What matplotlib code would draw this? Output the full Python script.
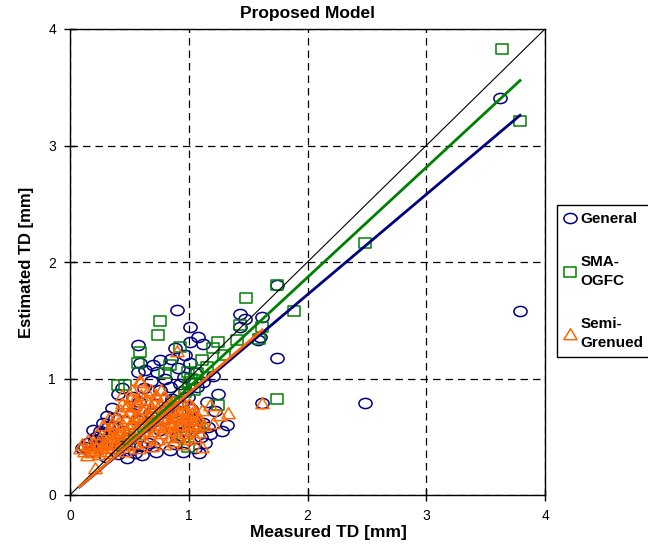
#!/usr/bin/env python3
import numpy as np
import matplotlib
matplotlib.use("Agg")
import matplotlib.pyplot as plt
from matplotlib.path import Path
from matplotlib.transforms import Affine2D

plt.rcParams["font.family"] = ["Liberation Sans", "DejaVu Sans"]

# measured / estimated TD [mm]
general_x = [3.62, 3.79, 2.48, 1.74, 1.62, 1.74, 1.43, 1.47, 1.62, 1.43, 1.60, 1.58,
             0.90, 1.01, 1.08, 1.01, 1.12, 0.57, 0.57, 0.59, 0.76, 0.88, 1.01, 0.63,
             0.73, 0.91, 1.12, 1.25, 1.32, 0.44, 0.40, 0.76, 0.84, 0.28, 0.13, 0.23,
             0.48, 0.61, 0.84, 1.09, 1.12, 1.04, 0.76, 0.90, 0.48, 0.99, 1.07, 0.36,
             0.19, 0.56, 0.67, 0.82, 0.96, 0.80, 0.68, 0.93, 1.05, 0.97, 0.85, 0.70,
             1.20, 1.15, 1.22, 1.28, 1.18, 1.05, 0.95, 0.72, 0.55, 0.40, 0.30, 0.15,
             0.10, 0.26, 0.33, 0.38, 0.45, 0.52, 0.58, 0.64, 0.72, 0.78, 0.86, 0.92,
             0.98, 1.02, 0.62, 0.53, 0.35, 0.31, 0.22, 0.17, 0.42, 0.66, 0.88, 1.14,
             0.25, 0.21, 0.32, 0.27, 0.50, 0.60, 0.70, 1.10, 1.16, 0.94]
general_y = [3.41, 1.58, 0.79, 1.18, 0.79, 1.80, 1.55, 1.51, 1.53, 1.44, 1.36, 1.33,
             1.59, 1.44, 1.36, 1.31, 1.30, 1.29, 1.06, 1.13, 1.16, 1.26, 1.13, 1.07,
             1.06, 1.09, 0.97, 0.87, 0.60, 0.92, 0.87, 0.90, 0.93, 0.62, 0.41, 0.41,
             0.32, 0.34, 0.39, 0.36, 0.62, 0.64, 0.56, 0.50, 0.47, 0.84, 0.93, 0.58,
             0.56, 0.64, 0.70, 0.73, 1.01, 1.00, 0.98, 0.95, 1.05, 1.20, 1.17, 1.12,
             1.02, 0.80, 0.72, 0.55, 0.52, 0.40, 0.37, 0.37, 0.36, 0.35, 0.33, 0.45,
             0.40, 0.52, 0.48, 0.66, 0.55, 0.70, 0.80, 0.60, 0.78, 0.64, 0.82, 0.72,
             0.56, 0.74, 0.92, 0.84, 0.75, 0.68, 0.50, 0.38, 0.42, 0.45, 0.44, 0.45,
             0.55, 0.47, 0.58, 0.44, 0.38, 0.42, 0.42, 0.50, 0.58, 0.62]

sma_x = [3.64, 3.79, 2.48, 1.74, 1.89, 1.48, 1.43, 1.62, 1.41, 1.59, 1.74, 0.76,
         0.74, 0.59, 0.57, 0.93, 0.84, 0.80, 1.11, 1.25, 1.20, 0.40, 0.46, 0.99,
         1.07, 1.05, 1.04, 1.25, 0.95, 1.09, 0.99, 1.00, 0.97, 0.90, 0.70, 0.62,
         0.55, 0.50, 0.45, 0.85, 1.15, 1.30, 1.02]
sma_y = [3.83, 3.21, 2.16, 1.80, 1.58, 1.69, 1.46, 1.44, 1.33, 1.34, 0.82, 1.49,
         1.37, 1.23, 1.13, 1.27, 1.12, 1.05, 1.16, 1.31, 1.26, 0.94, 0.94, 1.06,
         1.05, 0.99, 0.90, 0.77, 0.50, 0.58, 0.41, 0.95, 0.88, 0.80, 0.66, 0.58,
         0.52, 0.48, 0.44, 0.70, 1.10, 1.20, 1.00]

semi_x = [0.08, 0.12, 0.14, 0.16, 0.18, 0.21, 0.20, 0.22, 0.24, 0.25, 0.27, 0.28,
          0.29, 0.30, 0.31, 0.32, 0.33, 0.34, 0.35, 0.36, 0.37, 0.38, 0.39, 0.40,
          0.41, 0.42, 0.43, 0.44, 0.45, 0.46, 0.47, 0.48, 0.49, 0.50, 0.51, 0.52,
          0.52, 0.53, 0.54, 0.55, 0.56, 0.57, 0.58, 0.59, 0.60, 0.61, 0.62, 0.63,
          0.64, 0.65, 0.66, 0.67, 0.68, 0.69, 0.70, 0.71, 0.72, 0.73, 0.74, 0.75,
          0.76, 0.77, 0.78, 0.79, 0.80, 0.81, 0.82, 0.83, 0.84, 0.85, 0.86, 0.87,
          0.88, 0.89, 0.90, 0.90, 0.91, 0.92, 0.93, 0.94, 0.95, 0.96, 0.97, 0.98,
          0.99, 1.00, 1.01, 1.02, 1.03, 1.04, 1.05, 1.06, 1.07, 1.08, 1.09, 1.11,
          1.11, 1.13, 1.18, 1.20, 1.26, 1.33, 1.62, 0.65, 0.55, 0.59,
          0.10, 0.15, 0.19, 0.23, 0.26, 0.30, 0.34, 0.38, 0.42, 0.46, 0.50, 0.54,
          0.58, 0.62, 0.66, 0.70, 0.74, 0.78, 0.82, 0.86, 0.90, 0.94, 0.98, 1.02,
          0.33, 0.40, 0.47, 0.55, 0.63, 0.71, 0.79, 0.87, 0.95, 1.03, 1.08, 0.44,
          0.51, 0.60, 0.68, 0.77, 0.85, 0.93, 1.00, 0.36, 0.48, 0.57, 0.71, 0.83]
semi_y = [0.40, 0.38, 0.34, 0.42, 0.37, 0.23, 0.45, 0.40, 0.35, 0.48, 0.43, 0.60,
          0.38, 0.52, 0.46, 0.41, 0.56, 0.36, 0.62, 0.49, 0.44, 0.58, 0.68, 0.40,
          0.52, 0.73, 0.47, 0.79, 0.60, 0.38, 0.66, 0.55, 0.43, 0.71, 0.84, 0.90,
          0.50, 0.62, 0.45, 0.77, 0.57, 0.68, 0.40, 0.97, 0.52, 0.74, 0.63, 0.46,
          0.82, 0.58, 0.69, 0.50, 0.76, 0.42, 0.64, 0.55, 0.86, 0.71, 0.48, 0.60,
          0.78, 0.53, 0.84, 0.66, 0.44, 0.72, 0.58, 0.50, 0.80, 0.63, 0.69, 0.46,
          0.55, 0.75, 1.24, 0.61, 0.51, 0.70, 0.57, 0.79, 0.44, 0.65, 0.53, 0.72,
          0.60, 0.48, 0.68, 0.56, 0.76, 0.62, 0.50, 0.70, 0.58, 0.65, 0.54, 0.73,
          0.41, 0.60, 0.77, 0.62, 0.69, 0.70, 0.79, 0.88, 0.82, 0.99,
          0.44, 0.47, 0.39, 0.52, 0.40, 0.44, 0.50, 0.46, 0.56, 0.50, 0.58, 0.66,
          0.62, 0.55, 0.62, 0.72, 0.66, 0.58, 0.66, 0.60, 0.67, 0.60, 0.66, 0.64,
          0.66, 0.62, 0.76, 0.68, 0.75, 0.80, 0.74, 0.80, 0.73, 0.70, 0.61, 0.86,
          0.62, 0.86, 0.90, 0.90, 0.74, 0.84, 0.78, 0.54, 0.76, 0.80, 0.80, 0.62]

# trend lines: slope, intercept, x range
fit_general = [0.86, 0.0, 0.08, 3.79]
fit_sma = [0.944, -0.02, 0.40, 3.79]
fit_semi = [0.875, 0.0, 0.08, 1.62]

series_labels = ["General", "SMA-\nOGFC", "Semi-\nGrenued"]


def main():
    navy, green, orange = "#000080", "#008000", "#FF6600"
    ellipse = Path.unit_circle().transformed(Affine2D().scale(1.3, 1.0))
    rect = Path([(-1.2, -1), (1.2, -1), (1.2, 1), (-1.2, 1), (-1.2, -1)],
                [Path.MOVETO, Path.LINETO, Path.LINETO, Path.LINETO, Path.CLOSEPOLY])
    tri = Path([(-1.15, -0.9), (1.15, -0.9), (0, 1.0), (-1.15, -0.9)],
               [Path.MOVETO, Path.LINETO, Path.LINETO, Path.CLOSEPOLY])

    fig = plt.figure(figsize=(6.48, 5.46), dpi=100)
    ax = fig.add_axes([70 / 648, 51 / 546, 475 / 648, 466 / 546])

    ax.plot(general_x, general_y, ls="none", marker=ellipse, ms=9.5, mfc="none",
            mec=navy, mew=1.1, label=series_labels[0])
    ax.plot(sma_x, sma_y, ls="none", marker=rect, ms=9, mfc="none",
            mec=green, mew=1.1, label=series_labels[1])
    ax.plot(semi_x, semi_y, ls="none", marker=tri, ms=9.5, mfc="none",
            mec=orange, mew=1.1, label=series_labels[2])

    ax.plot([0, 4], [0, 4], color="black", lw=0.8)
    for (b, a, x0, x1), c in zip([fit_general, fit_sma, fit_semi], [navy, green, orange]):
        xs = np.array([x0, x1])
        ax.plot(xs, a + b * xs, color=c, lw=2.0)

    ax.set_xlim(0, 4)
    ax.set_ylim(0, 4)
    ax.set_xticks([0, 1, 2, 3, 4])
    ax.set_yticks([0, 1, 2, 3, 4])
    ax.tick_params(direction="inout", length=8, width=1, labelsize=10, pad=6)
    ax.grid(True, color="black", ls=(0, (6, 4)), lw=0.9)
    for s in ax.spines.values():
        s.set_linewidth(1.0)

    ax.set_title("Proposed Model", fontsize=12.5, fontweight="bold", pad=8)
    ax.set_xlabel("Measured TD [mm]", fontsize=12.5, fontweight="bold", labelpad=5)
    ax.xaxis.set_label_coords(0.545, -0.065)
    ax.set_ylabel("Estimated TD [mm]", fontsize=12, fontweight="bold", labelpad=10)

    leg = fig.legend(loc="upper left", bbox_to_anchor=(557 / 648, 1 - 205 / 546),
                     frameon=True, fancybox=False, edgecolor="black", framealpha=1,
                     prop={"weight": "bold", "size": 11}, handlelength=0.8,
                     handletextpad=0.3, labelspacing=1.9, borderpad=0.45,
                     borderaxespad=0)
    for t in leg.get_texts():
        t.set_linespacing(1.45)

    fig.savefig("out.png", dpi=100)
    plt.clf()


if __name__ == "__main__":
    main()
